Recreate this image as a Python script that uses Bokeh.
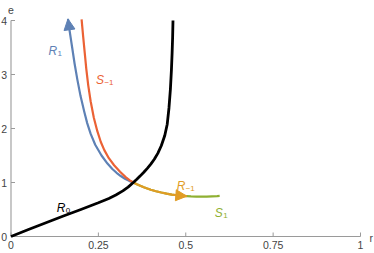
import numpy as np
from bokeh.plotting import figure
from bokeh.models import Range1d, Arrow, NormalHead
from bokeh.core.properties import value
from bokeh.embed import file_html
from bokeh.resources import INLINE

# ---------------- data ----------------
# R0 (black)
r0_r = [0.0, 0.05, 0.10, 0.15, 0.20, 0.25, 0.28, 0.30, 0.32, 0.335, 0.35, 0.36, 0.37, 0.38,
        0.39, 0.40, 0.41, 0.42, 0.43, 0.44, 0.447, 0.452, 0.456, 0.459, 0.461, 0.4625, 0.4635]
r0_e = [0.0, 0.13, 0.255, 0.38, 0.50, 0.625, 0.705, 0.77, 0.845, 0.915, 1.0, 1.06, 1.123, 1.19,
        1.262, 1.34, 1.43, 1.54, 1.68, 1.87, 2.08, 2.38, 2.72, 3.08, 3.40, 3.70, 4.0]

# R1 (blue), from the crossing up to the arrow tip
r1_r = [0.35, 0.338, 0.326, 0.314, 0.302, 0.29, 0.276, 0.259, 0.241, 0.228, 0.218, 0.21,
        0.199, 0.19, 0.182, 0.175, 0.168, 0.163]
r1_e = [1.0, 1.03, 1.07, 1.12, 1.18, 1.25, 1.35, 1.5, 1.7, 1.9, 2.1, 2.3,
        2.6, 2.9, 3.2, 3.5, 3.8, 4.03]

# S-1 (red), from the top down to the crossing
sm1_r = [0.202, 0.2065, 0.211, 0.2155, 0.221, 0.228, 0.237, 0.247, 0.257, 0.267, 0.28,
         0.295, 0.312, 0.328, 0.34, 0.35]
sm1_e = [4.02, 3.7, 3.4, 3.1, 2.8, 2.5, 2.2, 1.95, 1.75, 1.6, 1.45,
         1.32, 1.2, 1.1, 1.04, 1.0]

# R-1 (orange), from the crossing to the arrow tip
rm1_r = [0.35, 0.36, 0.37, 0.38, 0.39, 0.40, 0.415, 0.43, 0.445, 0.46, 0.475, 0.49, 0.503]
rm1_e = [1.0, 0.968, 0.939, 0.912, 0.888, 0.866, 0.838, 0.814, 0.794, 0.777, 0.764, 0.754, 0.747]

# S1 (green)
s1_r = [0.35, 0.36, 0.37, 0.38, 0.39, 0.40, 0.415, 0.43, 0.445, 0.46, 0.475, 0.49, 0.503,
        0.515, 0.53, 0.545, 0.56, 0.575, 0.59, 0.597]
s1_e = [1.0, 0.968, 0.939, 0.912, 0.888, 0.866, 0.838, 0.814, 0.794, 0.777, 0.764, 0.754, 0.747,
        0.742, 0.738, 0.737, 0.738, 0.742, 0.748, 0.752]

x_ticks = [0, 0.25, 0.5, 0.75, 1]
x_tick_labels = ["0", "0.25", "0.5", "0.75", "1"]
y_ticks = [0, 1, 2, 3, 4]
y_tick_labels = ["0", "1", "2", "3", "4"]

label_main = ["R", "S", "R", "R", "S"]
label_sub = ["1", "\u22121", "0", "\u22121", "1"]
label_r = [0.107, 0.243, 0.131, 0.474, 0.583]
label_e = [3.43, 2.89, 0.52, 0.93, 0.43]

# ---------------- style ----------------
BLUE = "#5E81B5"
ORANGE = "#E19C24"
GREEN = "#8FB032"
RED = "#EB6235"
BLACK = "#000000"
AXIS = "#9a9a9a"
TICKTXT = "#444444"
label_colors = [BLUE, RED, BLACK, ORANGE, GREEN]
label_sub_dx = [9, 8.5, 9, 9, 8.5]
FONT = value("Liberation Sans")

W, H = 374, 253
X0, SX = 10.5, 349.5   # pixel of r=0 in figure, px per unit
Y0, SY = 17, 54        # pixel of e=0 from bottom, px per unit

p = figure(width=W, height=H, output_backend="svg", toolbar_location=None,
           x_axis_type=None, y_axis_type=None,
           x_range=Range1d(-X0 / SX, (W - X0) / SX),
           y_range=Range1d(-Y0 / SY, (H - Y0) / SY),
           min_border=0, min_border_left=0, min_border_right=0,
           min_border_top=0, min_border_bottom=0)
p.outline_line_color = None
p.grid.visible = False
p.background_fill_color = "white"
p.border_fill_color = "white"

# axes
p.line(x=[x_ticks[0], x_ticks[-1]], y=[0, 0], line_color=AXIS, line_width=1.1)
p.line(x=[0, 0], y=[y_ticks[0], y_ticks[-1]], line_color=AXIS, line_width=1.1)
p.ray(x=x_ticks, y=[0] * len(x_ticks), length=4, length_units="screen",
      angle=np.pi / 2, line_color=AXIS, line_width=1)
p.ray(x=[0] * len(y_ticks), y=y_ticks, length=4, length_units="screen",
      angle=0, line_color=AXIS, line_width=1)
p.text(x=x_ticks, y=[0] * len(x_ticks), text=x_tick_labels, text_font=FONT,
       text_font_size=value("10.5px"), text_color=TICKTXT, text_align="center",
       text_baseline="top", y_offset=4)
p.text(x=[0] * len(y_ticks), y=y_ticks, text=y_tick_labels, text_font=FONT,
       text_font_size=value("10.5px"), text_color=TICKTXT, text_align="right",
       text_baseline="middle", x_offset=-4)
p.text(x=[0], y=[y_ticks[-1]], text=["e"], text_font=FONT, text_font_size=value("10.5px"),
       text_color=TICKTXT, text_align="center", text_baseline="alphabetic", y_offset=-10.5)
p.text(x=[x_ticks[-1]], y=[0], text=["r"], text_font=FONT, text_font_size=value("10.5px"),
       text_color=TICKTXT, text_align="left", text_baseline="alphabetic", x_offset=9, y_offset=1)

# curves
LW = 2.2
p.line(r1_r, r1_e, line_color=BLUE, line_width=LW, line_join="round")
p.line(s1_r, s1_e, line_color=GREEN, line_width=LW, line_join="round")
p.line(sm1_r, sm1_e, line_color=RED, line_width=LW, line_join="round")
p.line(rm1_r, rm1_e, line_color=ORANGE, line_width=LW, line_join="round")
p.line(r0_r, r0_e, line_color=BLACK, line_width=2.8, line_join="round")

for rs, es, col in [(r1_r, r1_e, BLUE), (rm1_r, rm1_e, ORANGE)]:
    p.add_layout(Arrow(end=NormalHead(size=11, fill_color=col, line_color=col, line_width=1),
                       x_start=rs[-2], y_start=es[-2], x_end=rs[-1], y_end=es[-1],
                       line_color=col, line_alpha=0, line_width=1))

# curve labels
p.text(x=label_r, y=label_e, text=label_main, text_font=FONT,
       text_font_size=value("12px"), text_font_style="italic",
       text_color=label_colors, text_align="left", text_baseline="alphabetic")
p.text(x=label_r, y=label_e, text=label_sub, text_font=FONT,
       text_font_size=value("8px"),
       text_color=label_colors, text_align="left", text_baseline="alphabetic",
       x_offset=label_sub_dx, y_offset=2)

open("out.html", "w").write(file_html(p, INLINE))
